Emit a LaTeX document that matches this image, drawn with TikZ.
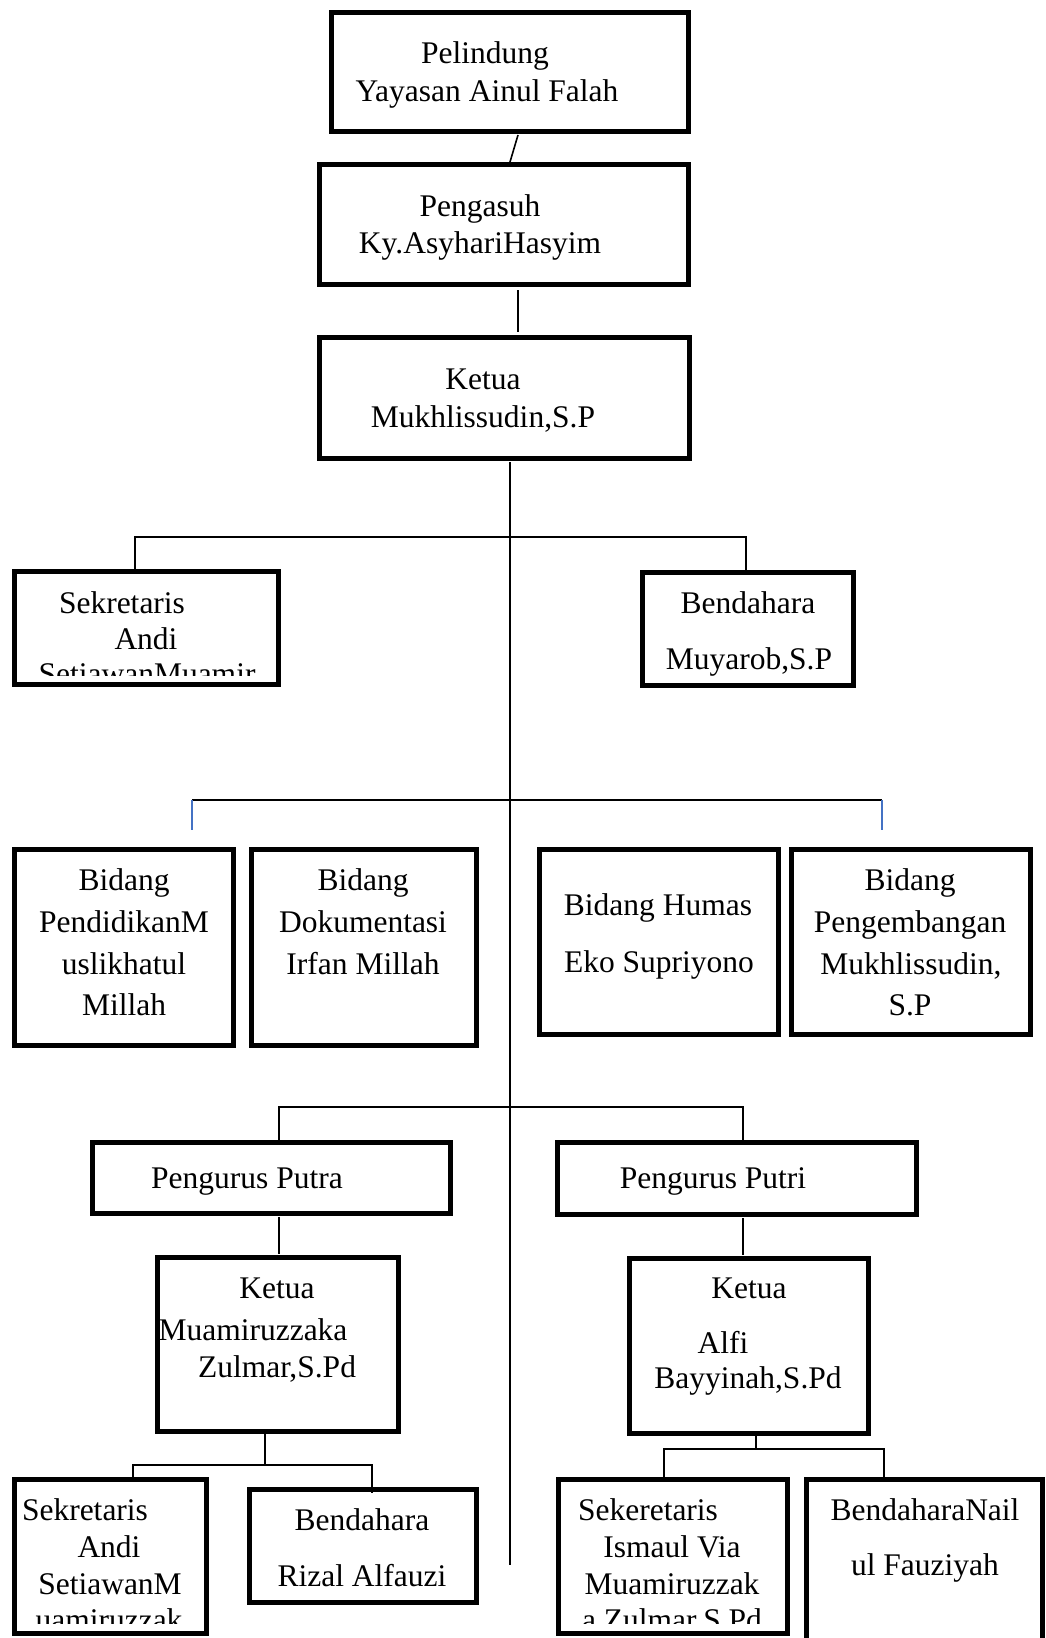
\documentclass[tikz,border=0pt]{standalone}
\usepackage{fontspec}
\setmainfont{Liberation Serif}
\definecolor{tickblue}{RGB}{68,114,196}
\tikzset{
  orgbox/.style={draw, rectangle, line width=5pt, inner sep=0pt, outer sep=0pt},
  txt/.style={anchor=base, inner sep=0pt, outer sep=0pt, font=\fontsize{31.5}{38}\selectfont},
  conn/.style={line width=1.6pt},
  bluetick/.style={line width=1.4pt, draw=tickblue},
}
\newcommand{\tline}[4]{\node[txt] (#1) at (#2,#3) {#4};}
\begin{document}
\begin{tikzpicture}[x=1pt,y=-1pt]
\useasboundingbox (0,0) rectangle (1045,1638);
\fill[white] (0,0) rectangle (1045,1638);

% boxes
\node[orgbox, minimum width=357pt, minimum height=119pt] (pel) at (509.5,71.5) {};
\node[orgbox, minimum width=369pt, minimum height=120pt] (pga) at (503.5,224) {};
\node[orgbox, minimum width=370pt, minimum height=121pt] (ket) at (504,397.5) {};
\node[orgbox, minimum width=264pt, minimum height=113pt] (sek) at (146,627.5) {};
\node[orgbox, minimum width=211pt, minimum height=113pt] (ben) at (747.5,629) {};
\node[orgbox, minimum width=219pt, minimum height=196pt] (bd1) at (123.5,947) {};
\node[orgbox, minimum width=225pt, minimum height=196pt] (bd2) at (363.5,947) {};
\node[orgbox, minimum width=239pt, minimum height=185pt] (bd3) at (658.5,941.5) {};
\node[orgbox, minimum width=239pt, minimum height=185pt] (bd4) at (910.5,941.5) {};
\node[orgbox, minimum width=358pt, minimum height=71pt] (pa) at (271,1177.5) {};
\node[orgbox, minimum width=359pt, minimum height=72pt] (pi) at (736.5,1178) {};
\node[orgbox, minimum width=241pt, minimum height=174pt] (kpa) at (277.5,1344) {};
\node[orgbox, minimum width=239pt, minimum height=175pt] (kpi) at (748.5,1345.5) {};
\node[orgbox, minimum width=192pt, minimum height=154pt] (s2) at (110,1556) {};
\node[orgbox, minimum width=227pt, minimum height=113pt] (b2) at (362.5,1545.5) {};
\node[orgbox, minimum width=229pt, minimum height=154pt] (s3) at (672.5,1556) {};
\node[orgbox, minimum width=236pt, minimum height=221pt] (b3) at (924,1589.5) {};

% connectors
\draw[conn] ([xshift=8.5pt,yshift=-4pt]pel.south) -- ([xshift=6.5pt,yshift=2pt]pga.north);
\draw[conn] ([xshift=14.5pt,yshift=-6pt]pga.south) -- ([xshift=14pt,yshift=5pt]ket.north);
\coordinate (tend) at (510,1565);
\draw[conn] ([xshift=6pt,yshift=-4pt]ket.south) -- (tend);
\coordinate (h1) at (510,537);
\draw[conn] ([xshift=-11pt]sek.north) |- (h1) -| ([xshift=-1.5pt]ben.north);
\coordinate (h2l) at (192,800);
\coordinate (h2r) at (882,800);
\coordinate (bt1) at (192,830);
\coordinate (bt2) at (882,830);
\draw[conn] (h2l) -- (h2r);
\draw[bluetick] (h2l) -- (bt1);
\draw[bluetick] (h2r) -- (bt2);
\coordinate (h3) at (510,1107);
\draw[conn] ([xshift=8pt]pa.north) |- (h3) -| ([xshift=6.5pt]pi.north);
\draw[conn] ([xshift=8pt,yshift=-4pt]pa.south) -- ([xshift=1.5pt,yshift=3pt]kpa.north);
\draw[conn] ([xshift=6.5pt,yshift=-4pt]pi.south) -- ([xshift=-5.5pt,yshift=3pt]kpi.north);
\coordinate (k1) at (265,1465);
\draw[conn] ([xshift=-12.5pt]kpa.south) -- (k1);
\draw[conn] ([xshift=23pt]s2.north) |- (k1) -| ([xshift=9.5pt,yshift=-4pt]b2.north);
\coordinate (k2) at (756,1449);
\draw[conn] ([xshift=7.5pt]kpi.south) -- (k2);
\draw[conn] ([xshift=-8.5pt]s3.north) |- (k2) -| ([xshift=-40pt]b3.north);

% texts
\tline{pelA}{485}{63}{Pelindung}
\tline{pelB}{487}{101}{Yayasan Ainul Falah}
\tline{pgaA}{480}{216}{Pengasuh}
\tline{pgaB}{480}{253}{Ky.AsyhariHasyim}
\tline{ketA}{483}{389}{Ketua}
\tline{ketB}{483}{427}{Mukhlissudin,S.P}
\begin{scope}
\clip (0,0) rectangle (1045,675);
\tline{sekA}{122}{613}{Sekretaris}
\tline{sekB}{146}{649}{Andi}
\tline{sekC}{147}{684}{SetiawanMuamir}
\end{scope}
\tline{benA}{748}{613}{Bendahara}
\tline{benB}{749}{669}{Muyarob,S.P}
\tline{bdaA}{124}{890}{Bidang}
\tline{bdaB}{124}{932}{PendidikanM}
\tline{bdaC}{124}{974}{uslikhatul}
\tline{bdaD}{124}{1015}{Millah}
\tline{bdbA}{363}{890}{Bidang}
\tline{bdbB}{363}{932}{Dokumentasi}
\tline{bdbC}{363}{974}{Irfan Millah}
\tline{bdcA}{658}{915}{Bidang Humas}
\tline{bdcB}{659}{972}{Eko Supriyono}
\tline{bddA}{910}{890}{Bidang}
\tline{bddB}{910}{932}{Pengembangan}
\tline{bddC}{911}{974}{Mukhlissudin,}
\tline{bddD}{910}{1015}{S.P}
\tline{paA}{247}{1188}{Pengurus Putra}
\tline{piA}{713}{1188}{Pengurus Putri}
\tline{kpaA}{277}{1298}{Ketua}
\tline{kpaB}{253}{1340}{Muamiruzzaka}
\tline{kpaC}{277}{1377}{Zulmar,S.Pd}
\tline{kpiA}{749}{1298}{Ketua}
\tline{kpiB}{723}{1353}{Alfi}
\tline{kpiC}{748}{1388}{Bayyinah,S.Pd}
\begin{scope}
\clip (0,0) rectangle (1045,1623);
\tline{sbA}{85}{1520}{Sekretaris}
\tline{sbB}{109}{1557}{Andi}
\tline{sbC}{110}{1594}{SetiawanM}
\tline{sbD}{109}{1630}{uamiruzzak}
\tline{scA}{648}{1520}{Sekeretaris}
\tline{scB}{672}{1557}{Ismaul Via}
\tline{scC}{672}{1594}{Muamiruzzak}
\tline{scD}{672}{1630}{a Zulmar,S.Pd}
\end{scope}
\tline{bbA}{362}{1530}{Bendahara}
\tline{bbB}{362}{1586}{Rizal Alfauzi}
\tline{bcA}{925}{1520}{BendaharaNail}
\tline{bcB}{925}{1575}{ul Fauziyah}
\end{tikzpicture}
\end{document}
